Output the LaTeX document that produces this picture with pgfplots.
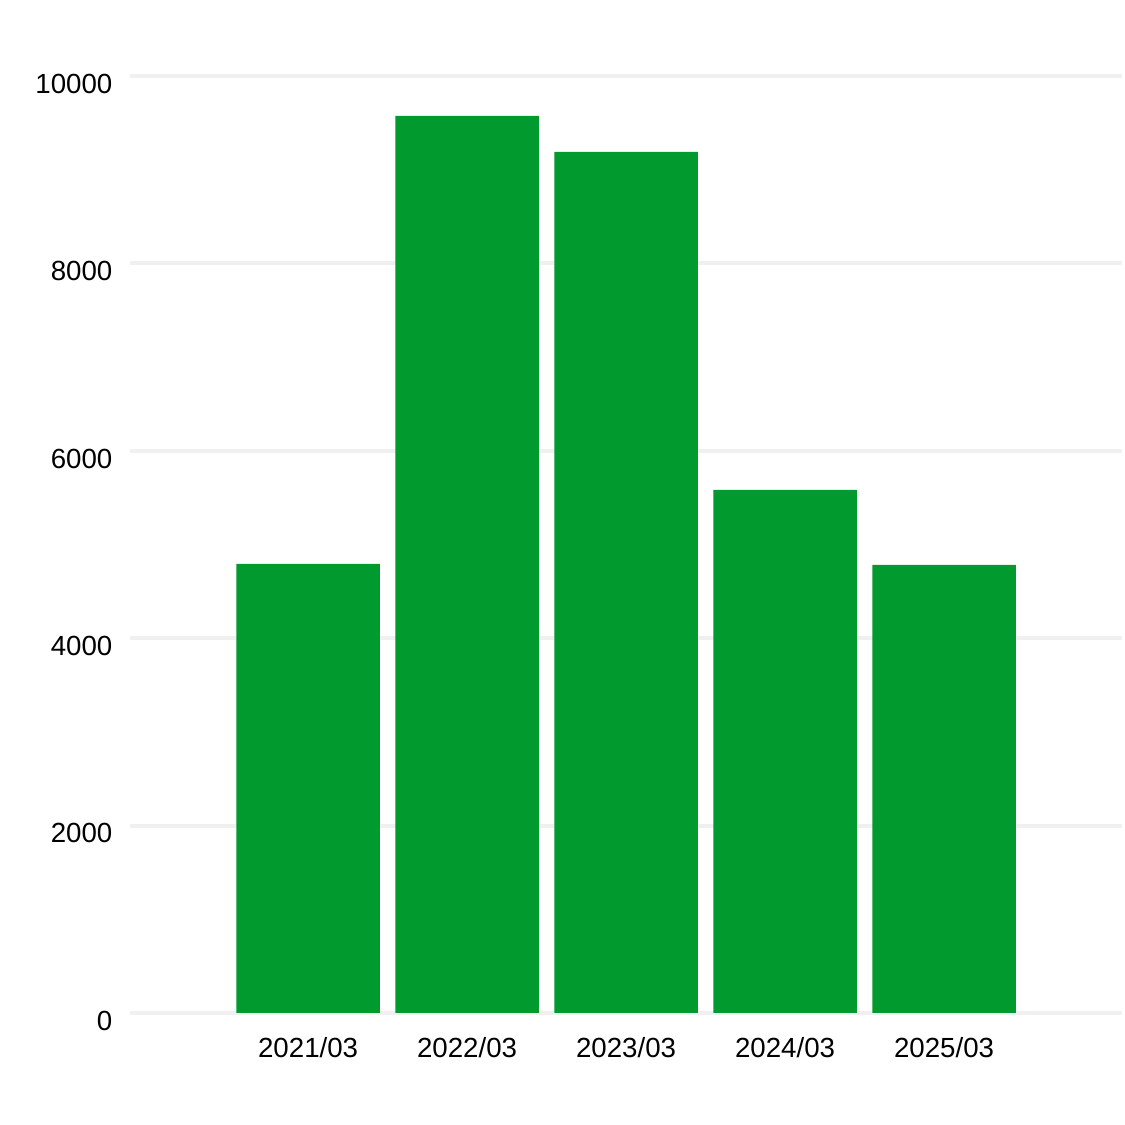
\documentclass[border=0pt]{standalone}
\usepackage{fontspec}
\setmainfont{Liberation Sans}
\usepackage{pgfplots}
\pgfplotsset{compat=1.18}
\definecolor{barg}{HTML}{009A2E}
\definecolor{gridg}{HTML}{F0F0F0}
\begin{document}
\begin{tikzpicture}
\path[use as bounding box] (0,0) rectangle (10cm,10cm);
\begin{axis}[
  at={(1.156cm,0.996cm)}, anchor=south west,
  scale only axis, width=8.818cm, height=8.329cm,
  xmin=-1.12, xmax=5.12, ymin=0, ymax=10000,
  axis line style={draw=none}, tick style={draw=none},
  ymajorgrids, grid style={gridg, line width=1pt},
  ytick={0,2000,4000,6000,8000,10000},
  xtick={0,1,2,3,4},
  xticklabels={2021/03,2022/03,2023/03,2024/03,2025/03},
  scaled y ticks=false,
  /pgf/number format/assume math mode=true,
  /pgf/number format/1000 sep={},
  ticklabel style={font=\fontsize{7}{8}\selectfont},
  yticklabel style={anchor=east, inner sep=0pt, xshift=-0.15cm, yshift=-0.07cm},
  xticklabel style={anchor=base, inner sep=0pt, yshift=-0.4cm},
  clip=false,
]
\addplot[ybar, bar width=1.276cm, fill=barg, draw=none] coordinates {
(0,4792) (1,9573) (2,9189) (3,5582) (4,4781)};
\end{axis}
\end{tikzpicture}
\end{document}
